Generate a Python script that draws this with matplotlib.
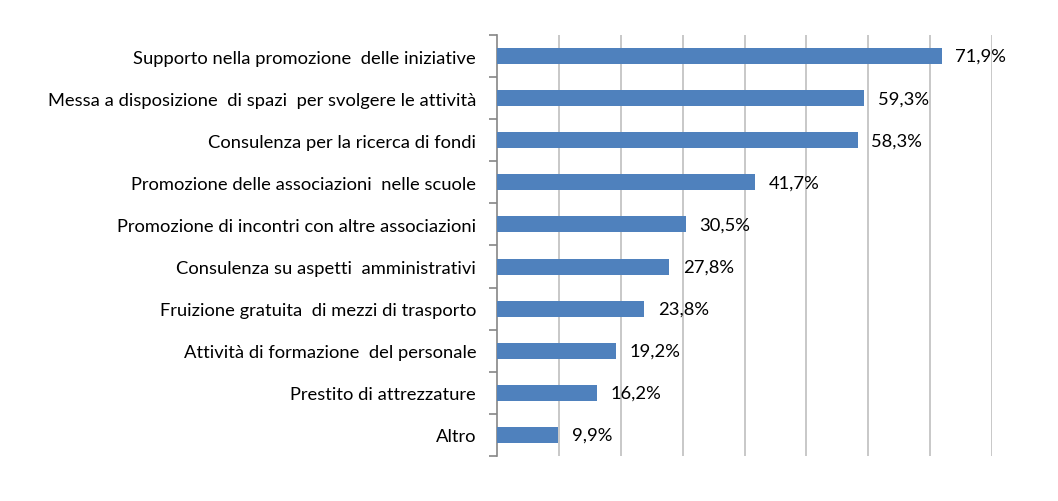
import matplotlib.pyplot as plt
import numpy as np

# Categories and values (percent), top to bottom
categories = [
    "Supporto nella promozione  delle iniziative",
    "Messa a disposizione  di spazi  per svolgere le attività",
    "Consulenza per la ricerca di fondi",
    "Promozione delle associazioni  nelle scuole",
    "Promozione di incontri con altre associazioni",
    "Consulenza su aspetti  amministrativi",
    "Fruizione gratuita  di mezzi di trasporto",
    "Attività di formazione  del personale",
    "Prestito di attrezzature",
    "Altro",
]
values = [71.9, 59.3, 58.3, 41.7, 30.5, 27.8, 23.8, 19.2, 16.2, 9.9]

plt.rcParams['font.family'] = ['Lato', 'DejaVu Sans']

fig = plt.figure(figsize=(10.58, 5.02), dpi=100)
ax = fig.add_axes([497 / 1058, 1 - 457 / 502, (992 - 497) / 1058, (457 - 36) / 502])

y = np.arange(len(categories))
ax.barh(y, values, height=0.38, color="#4F81BD", zorder=3)

for yi, v in zip(y, values):
    ax.text(v + 2.2, yi, f"{v:.1f}%".replace(".", ","), va="center", ha="left",
            fontsize=13.2, color="black")

ax.set_xlim(0, 80)
ax.set_ylim(len(categories) - 0.5, -0.5)
ax.set_xticks(np.arange(10, 81, 10))
ax.tick_params(axis="x", length=0, labelbottom=False)
ax.grid(axis="x", color="#BFBFBF", linewidth=1.2, zorder=0)

ax.set_yticks(y)
ax.set_yticklabels(categories, fontsize=13.2)
ax.tick_params(axis="y", which="major", length=0, pad=15)
ax.set_yticks(np.arange(-0.5, len(categories), 1), minor=True)
ax.tick_params(axis="y", which="minor", length=6, color="#868686", width=1.2)

for s in ["top", "right", "bottom"]:
    ax.spines[s].set_visible(False)
ax.spines["left"].set_color("#868686")
ax.spines["left"].set_linewidth(1.2)

fig.savefig("out.png", dpi=100)
